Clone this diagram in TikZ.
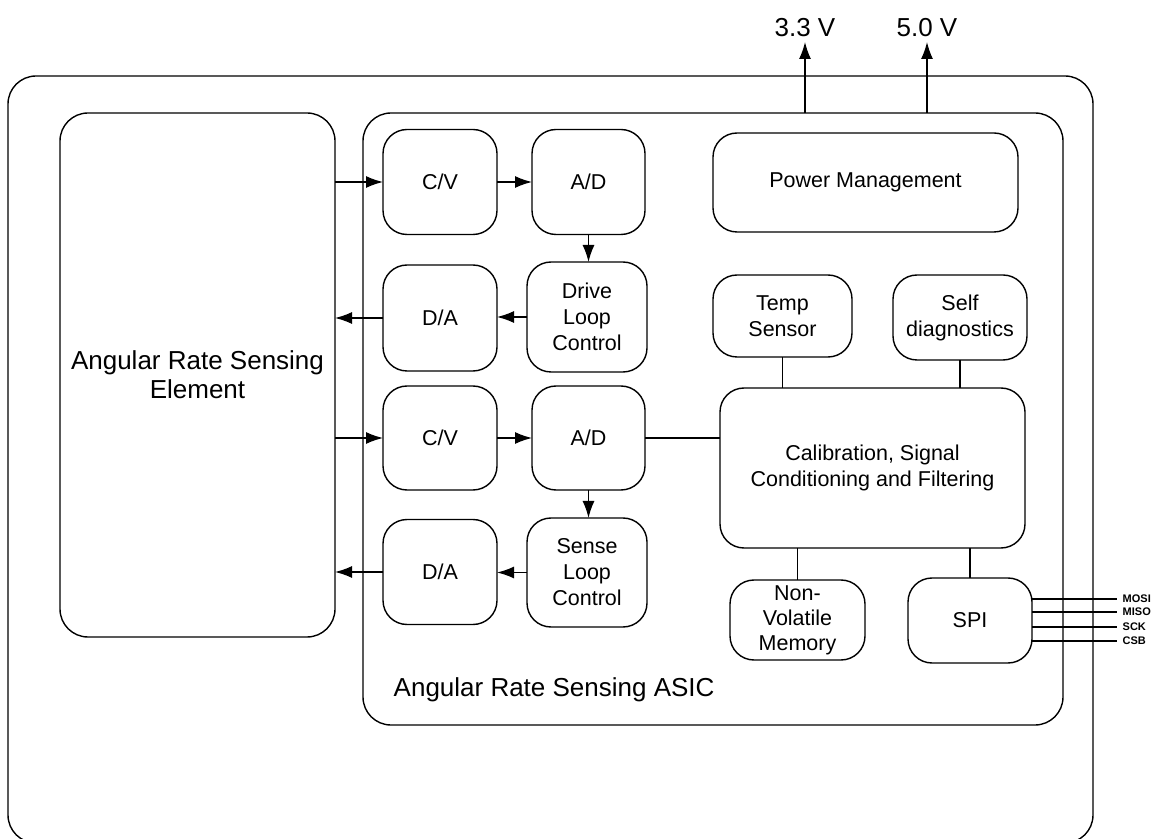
\documentclass[tikz,border=0pt]{standalone}
\usepackage{fontspec}
\setmainfont{Liberation Sans}
\usetikzlibrary{arrows.meta}

\begin{document}
\begin{tikzpicture}[x=0.5pt, y=-0.5pt, line width=0.7pt,
    >={Latex[length=8.5pt,width=6pt]},
    block/.style={draw, rounded corners=12pt, inner sep=0pt, outer sep=0pt, align=center, font=\fontsize{10.75}{13}\selectfont},
    frame/.style={draw, rounded corners=14pt, inner sep=0pt, outer sep=0pt},
    bigtext/.style={font=\fontsize{13}{14.5}\selectfont},
    pinlabel/.style={font=\bfseries\fontsize{5.5}{6}\selectfont, anchor=west, inner sep=2.5pt}]
    \useasboundingbox (0,0) rectangle (1173,839);

    % Define the frames
    \node[frame, minimum width=542.5pt, minimum height=383.5pt] (board) at (550.5,459.5) {};
    \node[frame, minimum width=350pt, minimum height=306pt] (asic) at (713,419) {};
    \node[frame, bigtext, align=center, minimum width=137.5pt, minimum height=262pt] (elem) at (197.5,375) {Angular Rate Sensing\\Element};
    \node[bigtext, anchor=west, inner sep=0pt] (asicname) at (393,690) {Angular Rate Sensing ASIC};

    % Define nodes for the drive and sense paths
    \node[block, minimum width=57pt, minimum height=52.5pt] (cv1) at (440,182) {C/V};
    \node[block, minimum width=56.5pt, minimum height=52.5pt] (ad1) at (588.5,182) {A/D};
    \node[block, minimum width=57pt, minimum height=53pt] (da1) at (440,318) {D/A};
    \node[block, minimum width=60pt, minimum height=55pt] (drive) at (587,317) {Drive\\Loop\\Control};

    \node[block, minimum width=57pt, minimum height=52pt] (cv2) at (440,438) {C/V};
    \node[block, minimum width=56.5pt, minimum height=52pt] (ad2) at (588.5,438) {A/D};
    \node[block, minimum width=57pt, minimum height=52.5pt] (da2) at (440,572) {D/A};
    \node[block, minimum width=60pt, minimum height=54.5pt] (sense) at (587,572.5) {Sense\\Loop\\Control};

    % Define nodes for the digital part
    \node[block, minimum width=152.5pt, minimum height=49.5pt] (power) at (865.5,182.5) {Power Management};
    \node[block, minimum width=69.5pt, minimum height=41pt] (temp) at (782.5,316) {Temp\\Sensor};
    \node[block, minimum width=67pt, minimum height=42.5pt] (self) at (960,317.5) {Self\\diagnostics};
    \node[block, minimum width=152.5pt, minimum height=80pt] (calib) at (872.5,468) {Calibration, Signal\\Conditioning and Filtering};
    \node[block, font=\fontsize{10.75}{12.5}\selectfont, minimum width=67.5pt, minimum height=40pt] (nvm) at (797.5,620) {Non-\\Volatile\\Memory};
    \node[block, minimum width=62pt, minimum height=42.5pt] (spi) at (970,620.5) {SPI};

    % Supply outputs
    \node[bigtext, anchor=south, inner sep=2.5pt] (v33) at (805,42) {3.3 V};
    \node[bigtext, anchor=south, inner sep=2.5pt] (v50) at (927,42) {5.0 V};
    \draw[->] (asic.north -| v33) -- (v33.south);
    \draw[->] (asic.north -| v50) -- (v50.south);

    % Draw the connections
    \draw[->] (elem.east |- cv1) -- (cv1.west);
    \draw[->] (cv1.east) -- (ad1.west);
    \draw[->] (ad1.south) -- (ad1.south |- drive.north);
    \draw[->] (drive.west) -- (drive.west -| da1.east);
    \draw[->] (da1.west) -- (da1.west -| elem.east);

    \draw[->] (elem.east |- cv2) -- (cv2.west);
    \draw[->] (cv2.east) -- (ad2.west);
    \draw[->] (ad2.south) -- (ad2.south |- sense.north);
    \draw[->] (sense.west) -- (sense.west -| da2.east);
    \draw[->] (da2.west) -- (da2.west -| elem.east);

    \draw (ad2.east) -- (ad2.east -| calib.west);
    \draw (temp.south) -- (temp.south |- calib.north);
    \draw (self.south) -- (self.south |- calib.north);
    \draw (calib.south -| nvm.north) -- (nvm.north);
    \draw (calib.south -| spi.north) -- (spi.north);

    % SPI bus
    \foreach \sig/\yy in {MOSI/599, MISO/612, SCK/627, CSB/641} {
        \node[pinlabel] (\sig) at (1117,\yy) {\sig};
        \draw (spi.east |- \sig.west) -- (\sig.west);
    }
\end{tikzpicture}
\end{document}
